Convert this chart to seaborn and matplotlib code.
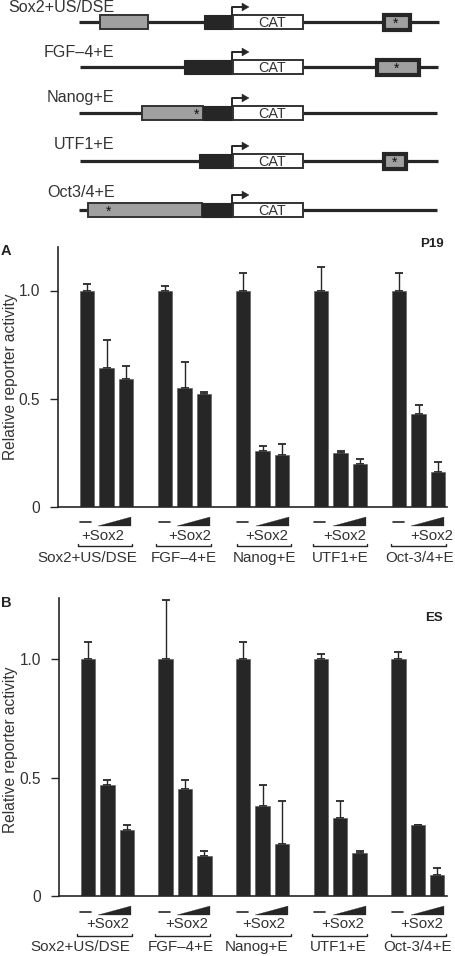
import numpy as np
import pandas as pd
import matplotlib
matplotlib.use("Agg")
import matplotlib.pyplot as plt
from matplotlib.patches import Rectangle, Polygon
import seaborn as sns

# values
groups = ["Sox2+US/DSE", "FGF\u20134+E", "Nanog+E", "UTF1+E", "Oct-3/4+E"]
p19_vals = [1.0, 0.64, 0.59, 1.0, 0.55, 0.52, 1.0, 0.26, 0.24, 1.0, 0.25, 0.20, 1.0, 0.43, 0.16]
p19_tops = [1.03, 0.77, 0.65, 1.02, 0.67, 0.53, 1.08, 0.28, 0.29, 1.11, 0.26, 0.22, 1.08, 0.47, 0.21]
es_vals = [1.0, 0.47, 0.28, 1.0, 0.45, 0.17, 1.0, 0.38, 0.22, 1.0, 0.33, 0.18, 1.0, 0.30, 0.09]
es_tops = [1.07, 0.49, 0.30, 1.25, 0.49, 0.19, 1.07, 0.47, 0.40, 1.02, 0.40, 0.19, 1.03, 0.30, 0.12]
y_ticks = [0, 0.5, 1.0]
y_ticklabels = ["0", "0.5", "1.0"]

# promoter constructs at the top
construct_names = ["Sox2+US/DSE", "FGF\u20134+E", "Nanog+E", "UTF1+E", "Oct3/4+E"]
construct_y = [22, 67, 113, 161, 210]
construct_label_y = [7, 52, 97, 144, 192]
line_ends = [(79, 439), (80, 438), (79, 437), (80, 438), (79, 437)]
black_left = [204, 184, 203, 199, 202]
grey_boxes = [(100, 148), None, (142, 203), None, (88, 202)]
framed_boxes = [(382, 411), (375, 420), None, (382, 407), None]
star_x = [396, 397, 197, 395, 109]

DARK = "#262626"
TEXT = "#333333"
GREY = "#a0a0a0"
W, H = 455, 956

sns.set_theme(style="white")
plt.rcParams["font.family"] = ["Liberation Sans", "DejaVu Sans"]
plt.rcParams["text.color"] = TEXT
plt.rcParams["axes.labelcolor"] = TEXT
plt.rcParams["xtick.color"] = TEXT
plt.rcParams["ytick.color"] = TEXT

fig = plt.figure(figsize=(W / 100, H / 100), dpi=100)
fig.patch.set_facecolor("white")


def px_axes(x0, x1, y0, y1):
    return fig.add_axes([x0 / W, 1 - y1 / H, (x1 - x0) / W, (y1 - y0) / H])


def bar_panel(x0, x1, y_top, y_zero, y_one, first, pitch, vals, tops, label_pos):
    ax = px_axes(x0, x1, y_top, y_zero)
    slots = [g * 4 + b for g in range(len(groups)) for b in range(3)]
    df = pd.DataFrame({"slot": slots, "value": vals})
    sns.barplot(data=df, x="slot", y="value", native_scale=True, color=DARK,
                saturation=1, width=0.74, edgecolor="#555555", linewidth=0.4, ax=ax)
    errs = np.array(tops) - np.array(vals)
    # error bars sit behind the bars so only the upper half shows
    ax.errorbar(slots, vals, yerr=[np.zeros(len(errs)), errs], fmt="none",
                ecolor=DARK, elinewidth=1.0, capsize=3, capthick=1.3, zorder=0.5)
    ax.set_xlim((x0 - first) / pitch, (x1 - first) / pitch)
    ax.set_ylim(0, (y_zero - y_top) / (y_zero - y_one))
    ax.set_xlabel("")
    ax.set_ylabel("Relative reporter activity", fontsize=11.2)
    ax.yaxis.set_label_coords(-(x0 - 18) / (x1 - x0), label_pos)
    ax.set_xticks([])
    ax.set_yticks(y_ticks)
    ax.set_yticklabels(y_ticklabels, fontsize=11.2)
    ax.tick_params(axis="y", length=5.8, width=1.0, color=DARK, pad=7, left=True)
    sns.despine(ax=ax)
    for side in ["left", "bottom"]:
        ax.spines[side].set_color(DARK)
        ax.spines[side].set_linewidth(1.2)
    ax.patch.set_alpha(0)
    return ax


bar_panel(58, 447, 247, 507, 290.5, 87, 19.5, p19_vals, p19_tops, 0.50)
bar_panel(59, 447, 598, 896, 659, 88, 19.4, es_vals, es_tops, 0.49)

# overlay in pixel coordinates for the schematic and annotations
ov = fig.add_axes([0, 0, 1, 1], zorder=5)
ov.set_xlim(0, W)
ov.set_ylim(H, 0)
ov.axis("off")
ov.patch.set_alpha(0)

for i, name in enumerate(construct_names):
    y = construct_y[i]
    ov.plot(line_ends[i], [y, y], color=DARK, lw=2.3, solid_capstyle="butt", zorder=1)
    ov.text(114.5, construct_label_y[i], name, ha="right", va="center", fontsize=11.6)
    if grey_boxes[i]:
        a, b = grey_boxes[i]
        ov.add_patch(Rectangle((a, y - 7), b - a, 14, fc=GREY, ec="#333333", lw=1.4, zorder=2))
    ov.add_patch(Rectangle((black_left[i], y - 7), 233 - black_left[i], 14, fc=DARK, ec=DARK, lw=0.8, zorder=3))
    ov.add_patch(Rectangle((233, y - 7), 70, 14, fc="white", ec="#333333", lw=1.4, zorder=3))
    ov.text(272, y + 0.5, "CAT", ha="center", va="center", fontsize=10.4, zorder=4)
    if framed_boxes[i]:
        a, b = framed_boxes[i]
        ov.add_patch(Rectangle((a + 1.5, y - 7), b - a - 3, 15, fc=GREY, ec=DARK, lw=3.0, zorder=3))
    ov.text(star_x[i], y + 2, "*", ha="center", va="center", fontsize=10, color="#111111", zorder=5)
    # start arrow
    ov.plot([232, 232, 243], [y - 7, y - 15, y - 15], color=DARK, lw=1.4, zorder=4)
    ov.add_patch(Polygon([[242, y - 19], [249, y - 15], [242, y - 11]], fc=DARK, ec=DARK, lw=0.3, zorder=4))

# positions of the dose annotations under each panel
dash_a = [80, 159, 237, 314, 393]
wedge_a = [98, 177, 256, 333, 411]
sox_a = [103, 190, 267, 345, 432]
brace_a = [(78, 132), (156, 211), (237, 291), (313, 367), (391, 446)]
label_a = [87, 184, 265, 340, 420]

dash_b = [80, 159, 237, 314, 392]
wedge_b = [98, 177, 255, 333, 411]
sox_b = [108, 187, 264, 343, 422]
brace_b = [(77, 132), (155, 210), (236, 291), (312, 367), (391, 446)]
label_b = [80, 181, 257, 338, 418]


def annotate(dash, wedge, sox, brace, label, y_dash, y_wedge, y_sox, y_brace, y_label):
    for i, name in enumerate(groups):
        ov.plot([dash[i], dash[i] + 10.5], [y_dash, y_dash], color=DARK, lw=1.2)
        ov.add_patch(Polygon([[wedge[i], y_wedge], [wedge[i] + 33, y_wedge], [wedge[i] + 33, y_wedge - 9]],
                             fc=DARK, ec=DARK, lw=0.2))
        ov.text(sox[i], y_sox, "+Sox2", ha="center", va="center", fontsize=10.8)
        a, b = brace[i]
        ov.plot([a, a, b, b], [y_brace - 2.5, y_brace, y_brace, y_brace - 2.5], color=DARK, lw=1.0)
        ov.text(label[i], y_label, name, ha="center", va="center", fontsize=10.9)


annotate(dash_a, wedge_a, sox_a, brace_a, label_a, 522, 526, 536, 546, 558)
annotate(dash_b, wedge_b, sox_b, brace_b, label_b, 912, 915, 924, 936, 947)

ov.text(1, 251, "A", fontsize=10.5, fontweight="bold", va="center", color="#222222")
ov.text(1, 603, "B", fontsize=10.5, fontweight="bold", va="center", color="#222222")
ov.text(444, 244, "P19", fontsize=9.5, fontweight="bold", va="center", ha="right", color="#222222")
ov.text(443, 618, "ES", fontsize=9.5, fontweight="bold", va="center", ha="right", color="#222222")

fig.savefig("out.png", dpi=100)
